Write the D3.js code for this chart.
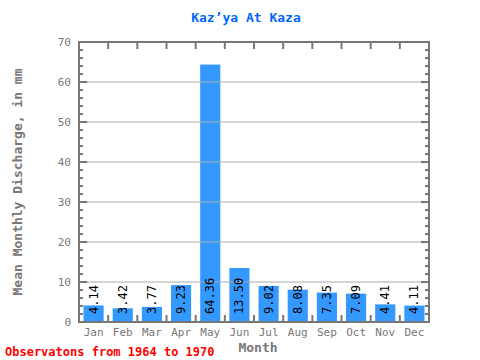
<!DOCTYPE html>
<html><head><meta charset="utf-8">
<script src="https://cdn.jsdelivr.net/npm/d3@7"></script>
<style>body{margin:0;background:#fff}svg{display:block}</style>
</head><body>
<script>
const months = ["Jan","Feb","Mar","Apr","May","Jun","Jul","Aug","Sep","Oct","Nov","Dec"];
const values = [4.14,3.42,3.77,9.23,64.36,13.50,9.02,8.08,7.35,7.09,4.41,4.11];
const labels = ["4.14","3.42","3.77","9.23","64.36","13.50","9.02","8.08","7.35","7.09","4.41","4.11"];
const yTicks = [0,10,20,30,40,50,60,70];

const W=480,H=360, L=79, R=429, T=42, B=322;
const font = "'DejaVu Sans Mono', monospace";
const svg = d3.select("body").append("svg").attr("width",W).attr("height",H);
const x = d3.scaleBand().domain(months).range([L,R]).paddingInner(0.31).paddingOuter(0.155);
const xb = d3.scaleBand().domain(months).range([L,R]);
const y = d3.scaleLinear().domain([0,70]).range([B,T]);
const axisCol="#777";

svg.append("g").selectAll("rect").data(values).join("rect")
  .attr("x",(d,i)=>x(months[i])).attr("width",x.bandwidth())
  .attr("y",d=>y(d)).attr("height",d=>B-y(d)).attr("fill","#3399ff");

svg.append("g").selectAll("line").data(yTicks.filter(v=>v>0&&v<70)).join("line")
  .attr("x1",L).attr("x2",R).attr("y1",d=>y(d)).attr("y2",d=>y(d))
  .attr("stroke","#aaa").attr("stroke-width",1);

const minor = d3.range(0,71,2);
const g = svg.append("g").attr("stroke",axisCol).attr("stroke-width",2);
g.selectAll(".ml").data(minor).join("line").attr("x1",L).attr("x2",L+4).attr("y1",d=>y(d)).attr("y2",d=>y(d));
g.selectAll(".mr").data(minor).join("line").attr("x1",R).attr("x2",R-4).attr("y1",d=>y(d)).attr("y2",d=>y(d));
g.selectAll(".Ml").data(yTicks).join("line").attr("x1",L).attr("x2",L+8).attr("y1",d=>y(d)).attr("y2",d=>y(d));
g.selectAll(".Mr").data(yTicks).join("line").attr("x1",R).attr("x2",R-8).attr("y1",d=>y(d)).attr("y2",d=>y(d));
const bounds = months.slice(1).map(m=>xb(m));
g.selectAll(".tt").data(bounds).join("line").attr("x1",d=>d).attr("x2",d=>d).attr("y1",T).attr("y2",T+7);
g.selectAll(".tb").data(bounds).join("line").attr("x1",d=>d).attr("x2",d=>d).attr("y1",B).attr("y2",B-7);
svg.append("rect").attr("x",L).attr("y",T).attr("width",R-L).attr("height",B-T)
  .attr("fill","none").attr("stroke",axisCol).attr("stroke-width",2);

svg.append("g").selectAll("text").data(yTicks).join("text")
  .attr("x",71).attr("y",d=>y(d)+4).attr("text-anchor","end")
  .attr("font-family",font).attr("font-size",11).attr("fill","#777").text(d=>d);
svg.append("g").selectAll("text").data(months).join("text")
  .attr("x",d=>xb(d)+xb.bandwidth()/2).attr("y",336).attr("text-anchor","middle")
  .attr("font-family",font).attr("font-size",11).attr("fill","#777").text(d=>d);

svg.append("g").selectAll("text").data(labels).join("text")
  .attr("transform",(d,i)=>`translate(${xb(months[i])+xb.bandwidth()/2+4},${B-8}) rotate(-90)`)
  .attr("font-family",font).attr("font-size",12).attr("fill","#000").text(d=>d);

svg.append("text").attr("x",246).attr("y",22).attr("text-anchor","middle")
  .attr("font-family",font).attr("font-size",13).attr("font-weight","bold").attr("fill","#0066ff").text("Kaz’ya At Kaza");
svg.append("text").attr("transform",`translate(22,${(T+B)/2}) rotate(-90)`).attr("text-anchor","middle")
  .attr("font-family",font).attr("font-size",13).attr("font-weight","bold").attr("fill","#777").text("Mean Monthly Discharge, in mm");
svg.append("text").attr("x",258).attr("y",352).attr("text-anchor","middle")
  .attr("font-family",font).attr("font-size",13).attr("font-weight","bold").attr("fill","#777").text("Month");
svg.append("text").attr("x",5).attr("y",356)
  .attr("font-family",font).attr("font-size",12).attr("font-weight","bold").attr("fill","#ff0000").text("Observatons from 1964 to 1970");
</script>
</body></html>
